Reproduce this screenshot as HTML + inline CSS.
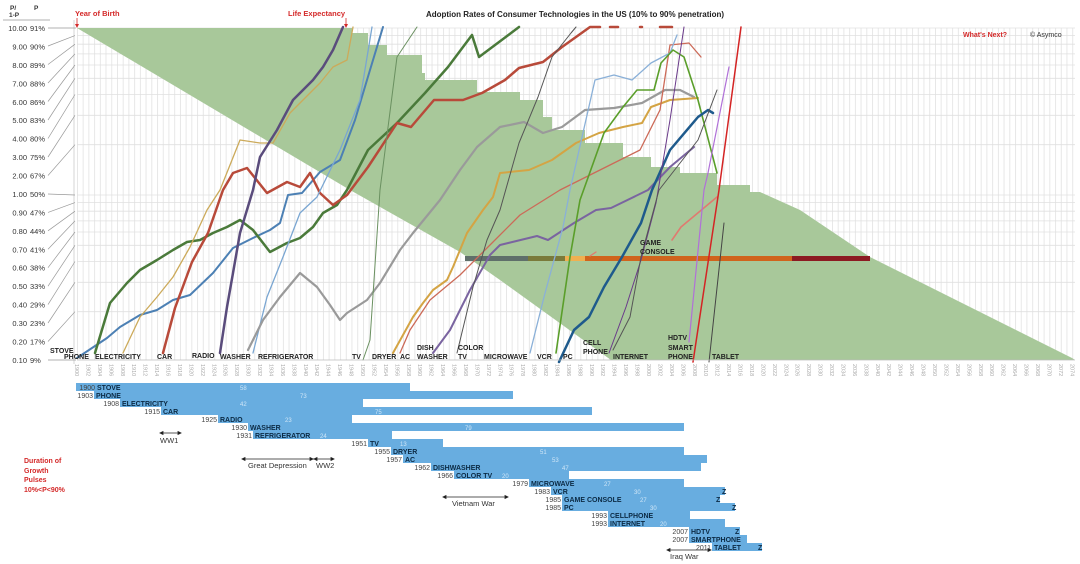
<!DOCTYPE html>
<html><head><meta charset="utf-8"><style>
html,body{margin:0;padding:0;background:#fff;}
svg{display:block;font-family:"Liberation Sans",sans-serif;}
.yl{font-size:7.5px;fill:#333;}
.xl{font-size:5.5px;fill:#aaa;}
.lb{font-size:7px;font-weight:bold;fill:#222;}
.bn{font-size:7px;font-weight:bold;fill:#0b2a44;}
.by{font-size:7px;fill:#444;text-anchor:end;}
.bv{font-size:6px;fill:#cfe6f7;}
.an{font-size:7.5px;fill:#333;}
.red{fill:#d42a2a;font-weight:bold;font-size:7.5px;}
</style></head><body>
<svg width="1080" height="564" viewBox="0 0 1080 564" xmlns="http://www.w3.org/2000/svg">
<defs>
<pattern id="vg" x="77" y="0" width="5.72" height="10" patternUnits="userSpaceOnUse">
<rect x="0" y="0" width="0.8" height="10" fill="#e2e2e2"/>
</pattern>
</defs>
<rect x="77" y="28" width="998" height="332" fill="url(#vg)"/>
<g stroke="#e0e0e0" stroke-width="0.8">
<line x1="77" x2="1075" y1="28" y2="28"/><line x1="77" x2="1075" y1="35.6" y2="35.6"/><line x1="77" x2="1075" y1="44.2" y2="44.2"/><line x1="77" x2="1075" y1="53.9" y2="53.9"/><line x1="77" x2="1075" y1="65" y2="65"/><line x1="77" x2="1075" y1="78.3" y2="78.3"/><line x1="77" x2="1075" y1="94.5" y2="94.5"/><line x1="77" x2="1075" y1="115.3" y2="115.3"/><line x1="77" x2="1075" y1="144.7" y2="144.7"/><line x1="77" x2="1075" y1="195" y2="195"/><line x1="77" x2="1075" y1="202.6" y2="202.6"/><line x1="77" x2="1075" y1="211.2" y2="211.2"/><line x1="77" x2="1075" y1="220.9" y2="220.9"/><line x1="77" x2="1075" y1="232" y2="232"/><line x1="77" x2="1075" y1="245.3" y2="245.3"/><line x1="77" x2="1075" y1="261.5" y2="261.5"/><line x1="77" x2="1075" y1="282.3" y2="282.3"/><line x1="77" x2="1075" y1="311.7" y2="311.7"/>
</g>
<!-- green region -->
<polygon fill="#a8c89a" points="77,28 352,28 352,33 368,33 368,45 387,45 387,55 422,55 422,73 425,73 425,80 477,80 477,92 520,92 520,100 543,100 543,117 552,117 552,130 585,130 585,143 623,143 623,157 651,157 651,167 680,167 680,173 717,173 717,185 750,185 750,192 760,192 800,210 870,257 1072,358 1075,360 611,360 500,280 460,252 350,190"/>
<!-- y axis -->
<line x1="74" y1="20" x2="74" y2="364" stroke="#ccc" stroke-width="0.8"/>
<g class="yl" text-anchor="end">
<text x="27" y="31">10.00</text><text x="27" y="49.4">9.00</text><text x="27" y="67.9">8.00</text><text x="27" y="86.3">7.00</text><text x="27" y="104.8">6.00</text><text x="27" y="123.2">5.00</text><text x="27" y="141.6">4.00</text><text x="27" y="160.1">3.00</text><text x="27" y="178.5">2.00</text><text x="27" y="197">1.00</text><text x="27" y="215.4">0.90</text><text x="27" y="233.8">0.80</text><text x="27" y="252.3">0.70</text><text x="27" y="270.7">0.60</text><text x="27" y="289.2">0.50</text><text x="27" y="307.6">0.40</text><text x="27" y="326">0.30</text><text x="27" y="344.5">0.20</text><text x="27" y="363">0.10</text>
</g>
<g class="yl">
<text x="30" y="31">91%</text><text x="30" y="49.4">90%</text><text x="30" y="67.9">89%</text><text x="30" y="86.3">88%</text><text x="30" y="104.8">86%</text><text x="30" y="123.2">83%</text><text x="30" y="141.6">80%</text><text x="30" y="160.1">75%</text><text x="30" y="178.5">67%</text><text x="30" y="197">50%</text><text x="30" y="215.4">47%</text><text x="30" y="233.8">44%</text><text x="30" y="252.3">41%</text><text x="30" y="270.7">38%</text><text x="30" y="289.2">33%</text><text x="30" y="307.6">29%</text><text x="30" y="326">23%</text><text x="30" y="344.5">17%</text><text x="30" y="363">9%</text>
</g>
<g stroke="#999" stroke-width="0.7">
<line x1="48" y1="28" x2="76" y2="28"/><line x1="48" y1="46" x2="75" y2="35.6"/><line x1="48" y1="64.5" x2="75" y2="44.2"/><line x1="48" y1="83" x2="75" y2="53.9"/><line x1="48" y1="101.5" x2="75" y2="65"/><line x1="48" y1="120" x2="75" y2="78.3"/><line x1="48" y1="138.5" x2="75" y2="94.5"/><line x1="48" y1="157" x2="75" y2="115.3"/><line x1="48" y1="175.5" x2="75" y2="144.7"/><line x1="48" y1="194" x2="75" y2="195"/><line x1="48" y1="212.4" x2="75" y2="202.6"/><line x1="48" y1="230.8" x2="75" y2="211.2"/><line x1="48" y1="249.3" x2="75" y2="220.9"/><line x1="48" y1="267.7" x2="75" y2="232"/><line x1="48" y1="286.2" x2="75" y2="245.3"/><line x1="48" y1="304.6" x2="75" y2="261.5"/><line x1="48" y1="323" x2="75" y2="282.3"/><line x1="48" y1="341.5" x2="75" y2="311.7"/><line x1="48" y1="360" x2="76" y2="360"/>
</g>
<text x="10" y="10" style="font-size:6.5px;font-weight:bold;fill:#333">P/</text>
<text x="9" y="17" style="font-size:6.5px;font-weight:bold;fill:#333">1-P</text>
<text x="34" y="10" style="font-size:6.5px;font-weight:bold;fill:#333">P</text>
<line x1="3" y1="20" x2="50" y2="20" stroke="#999" stroke-width="0.7"/>
<!-- title & annotations -->
<text x="75" y="16" class="red">Year of Birth</text>
<line x1="77" y1="18" x2="77" y2="27" stroke="#d42a2a" stroke-width="0.8"/><polygon points="75,24 79,24 77,28" fill="#d42a2a"/>
<text x="288" y="16" class="red">Life Expectancy</text>
<line x1="346" y1="18" x2="346" y2="27" stroke="#d42a2a" stroke-width="0.8"/><polygon points="344,24 348,24 346,28" fill="#d42a2a"/>
<text x="575" y="17" text-anchor="middle" style="font-size:8px;font-weight:bold;fill:#222">Adoption Rates of Consumer Technologies in the US (10% to 90% penetration)</text>
<text x="963" y="37" class="red" style="font-size:7px">What's Next?</text>
<text x="1030" y="37" style="font-size:7px;fill:#333">© Asymco</text>
<!-- color bar -->
<rect x="465" y="256" width="63" height="5" fill="#5f6f6a"/>
<rect x="528" y="256" width="37" height="5" fill="#7a7a3a"/>
<rect x="565" y="256" width="20" height="5" fill="#f0b050"/>
<rect x="585" y="256" width="207" height="5" fill="#d0641c"/>
<rect x="792" y="256" width="78" height="5" fill="#8c1a22"/>
<!-- series -->
<g fill="none" stroke-linejoin="round" stroke-linecap="round">
<polyline stroke="#4c80b4" stroke-width="2" points="77,358 107,338 120,327 140,315 157,310 173,300 190,295 213,273 233,248 253,238 270,230 280,223 288,195 302,193 320,172 340,160 355,120 370,70 383,27"/>
<polyline stroke="#4a7a3a" stroke-width="2.5" points="95,353 110,303 127,283 140,270 157,260 173,250 187,242 200,240 213,233 227,227 240,220 253,230 270,252 287,243 300,238 313,227 323,213 337,205 347,190 368,150 397,123 425,93 448,67 472,35 479,57 519,27"/>
<polyline stroke="#b84a3a" stroke-width="2.5" points="163,353 175,308 192,262 208,233 223,190 233,173 247,168 267,193 287,182 300,187 310,173 320,193 333,205 347,195 368,167 397,123 411,127 434,100 463,100 482,93 505,80 519,68 543,62 562,47 590,27 600,27"/>
<g stroke="#b84a3a" stroke-width="2.5"><line x1="610" y1="27" x2="618" y2="27"/><line x1="640" y1="27" x2="642" y2="27"/><line x1="660" y1="27" x2="672" y2="27"/></g>
<polyline stroke="#ccaa5a" stroke-width="1.3" points="123,353 140,317 157,297 173,277 190,247 207,210 220,190 240,140 260,143 273,143 290,113 320,83 333,67 347,60 353,27"/>
<polyline stroke="#5a4c7c" stroke-width="2.5" points="220,353 227,307 233,273 240,233 253,190 260,157 277,130 293,100 313,80 323,67 333,50 343,27"/>
<polyline stroke="#7aa6d2" stroke-width="1.3" points="253,353 267,297 283,257 300,213 317,197 340,150 360,100 372,27"/>
<polyline stroke="#9a9a9a" stroke-width="2.2" points="248,350 263,320 280,297 300,273 317,287 330,305 340,320 347,313 367,300 380,283 400,250 413,233 440,200 460,170 477,147 500,127 524,122 543,133 562,127 585,110 614,108 642,103 665,90 680,90 694,97"/>
<polyline stroke="#6a9060" stroke-width="1" points="363,360 370,340 380,190 397,57 417,27"/>
<polyline stroke="#d4a444" stroke-width="2" points="393,353 413,317 423,303 433,290 447,280 453,267 467,233 483,210 493,197 500,173 529,170 552,160 576,143 599,133 623,127 642,123 651,107 670,100 698,98"/>
<polyline stroke="#cc6a58" stroke-width="1.3" points="400,353 410,330 430,300 460,275 490,245 520,215 560,190 600,170 640,150 660,110 670,45 689,43 701,57"/>
<polyline stroke="#7a64a0" stroke-width="2" points="433,353 450,330 470,290 490,255 500,245 537,236 548,240 574,223 596,210 611,208 648,190 670,167 694,147"/>
<polyline stroke="#555" stroke-width="1" points="457,353 473,287 487,240 500,210 519,143 538,97 552,57 571,33 576,27"/>
<polyline stroke="#8ab0d8" stroke-width="1.3" points="530,353 544,297 563,227 570,190 595,80 614,75 632,80 651,63 670,53 677,35"/>
<polyline stroke="#5a9e2a" stroke-width="1.6" points="556,353 570,257 580,200 604,133 623,107 637,90 654,90 661,63 673,50 684,57 698,100 717,173"/>
<polyline stroke="#1e5a8c" stroke-width="2.5" points="559,362 574,330 589,317 604,287 622,257 641,223 652,190 670,150 698,117 708,110 713,113"/>
<polyline stroke="#6a3a8a" stroke-width="1" points="609,353 626,307 641,260 656,203 670,120 684,27"/>
<polyline stroke="#555" stroke-width="1" points="613,350 630,317 641,257 659,190 698,140 717,90"/>
<polyline stroke="#e07a70" stroke-width="1.6" points="672,240 681,227 693,217 717,197"/>
<polyline stroke="#e07a70" stroke-width="1.3" points="590,256 596,252"/>
<polyline stroke="#b070d8" stroke-width="1.2" points="689,342 704,190 708,173 729,67"/>
<polyline stroke="#d42424" stroke-width="1.5" points="693,362 719,190 741,27"/>
<polyline stroke="#444" stroke-width="1" points="709,362 724,223"/>
</g>
<!-- series labels -->
<g class="lb">
<text x="50" y="353">STOVE</text><text x="64" y="359">PHONE</text><text x="95" y="359">ELECTRICITY</text><text x="157" y="359">CAR</text><text x="192" y="358">RADIO</text><text x="220" y="359">WASHER</text><text x="258" y="359">REFRIGERATOR</text><text x="352" y="359">TV</text><text x="372" y="359">DRYER</text><text x="400" y="359">AC</text><text x="417" y="350">DISH</text><text x="417" y="359">WASHER</text><text x="458" y="350">COLOR</text><text x="458" y="359">TV</text><text x="484" y="359">MICROWAVE</text><text x="537" y="359">VCR</text><text x="563" y="359">PC</text><text x="583" y="345">CELL</text><text x="583" y="354">PHONE</text><text x="613" y="359">INTERNET</text><text x="640" y="245">GAME</text><text x="640" y="254">CONSOLE</text><text x="668" y="340">HDTV</text><text x="668" y="350">SMART</text><text x="668" y="359">PHONE</text><text x="712" y="359">TABLET</text>
</g>
<line x1="77" y1="360" x2="1075" y2="360" stroke="#bbb" stroke-width="0.7"/>
<!-- x labels -->
<g class="xl">
<text transform="translate(75,364) rotate(90)">1900</text><text transform="translate(86.4,364) rotate(90)">1902</text><text transform="translate(97.9,364) rotate(90)">1904</text><text transform="translate(109.3,364) rotate(90)">1906</text><text transform="translate(120.8,364) rotate(90)">1908</text><text transform="translate(132.2,364) rotate(90)">1910</text><text transform="translate(143.6,364) rotate(90)">1912</text><text transform="translate(155.1,364) rotate(90)">1914</text><text transform="translate(166.5,364) rotate(90)">1916</text><text transform="translate(178,364) rotate(90)">1918</text><text transform="translate(189.4,364) rotate(90)">1920</text><text transform="translate(200.8,364) rotate(90)">1922</text><text transform="translate(212.3,364) rotate(90)">1924</text><text transform="translate(223.7,364) rotate(90)">1926</text><text transform="translate(235.2,364) rotate(90)">1928</text><text transform="translate(246.6,364) rotate(90)">1930</text><text transform="translate(258,364) rotate(90)">1932</text><text transform="translate(269.5,364) rotate(90)">1934</text><text transform="translate(280.9,364) rotate(90)">1936</text><text transform="translate(292.4,364) rotate(90)">1938</text><text transform="translate(303.8,364) rotate(90)">1940</text><text transform="translate(315.2,364) rotate(90)">1942</text><text transform="translate(326.7,364) rotate(90)">1944</text><text transform="translate(338.1,364) rotate(90)">1946</text><text transform="translate(349.6,364) rotate(90)">1948</text><text transform="translate(361,364) rotate(90)">1950</text><text transform="translate(372.4,364) rotate(90)">1952</text><text transform="translate(383.9,364) rotate(90)">1954</text><text transform="translate(395.3,364) rotate(90)">1956</text><text transform="translate(406.8,364) rotate(90)">1958</text><text transform="translate(418.2,364) rotate(90)">1960</text><text transform="translate(429.6,364) rotate(90)">1962</text><text transform="translate(441.1,364) rotate(90)">1964</text><text transform="translate(452.5,364) rotate(90)">1966</text><text transform="translate(464,364) rotate(90)">1968</text><text transform="translate(475.4,364) rotate(90)">1970</text><text transform="translate(486.8,364) rotate(90)">1972</text><text transform="translate(498.3,364) rotate(90)">1974</text><text transform="translate(509.7,364) rotate(90)">1976</text><text transform="translate(521.2,364) rotate(90)">1978</text><text transform="translate(532.6,364) rotate(90)">1980</text><text transform="translate(544,364) rotate(90)">1982</text><text transform="translate(555.5,364) rotate(90)">1984</text><text transform="translate(566.9,364) rotate(90)">1986</text><text transform="translate(578.4,364) rotate(90)">1988</text><text transform="translate(589.8,364) rotate(90)">1990</text><text transform="translate(601.2,364) rotate(90)">1992</text><text transform="translate(612.7,364) rotate(90)">1994</text><text transform="translate(624.1,364) rotate(90)">1996</text><text transform="translate(635.6,364) rotate(90)">1998</text><text transform="translate(647,364) rotate(90)">2000</text><text transform="translate(658.4,364) rotate(90)">2002</text><text transform="translate(669.9,364) rotate(90)">2004</text><text transform="translate(681.3,364) rotate(90)">2006</text><text transform="translate(692.8,364) rotate(90)">2008</text><text transform="translate(704.2,364) rotate(90)">2010</text><text transform="translate(715.6,364) rotate(90)">2012</text><text transform="translate(727.1,364) rotate(90)">2014</text><text transform="translate(738.5,364) rotate(90)">2016</text><text transform="translate(750,364) rotate(90)">2018</text><text transform="translate(761.4,364) rotate(90)">2020</text><text transform="translate(772.8,364) rotate(90)">2022</text><text transform="translate(784.3,364) rotate(90)">2024</text><text transform="translate(795.7,364) rotate(90)">2026</text><text transform="translate(807.2,364) rotate(90)">2028</text><text transform="translate(818.6,364) rotate(90)">2030</text><text transform="translate(830,364) rotate(90)">2032</text><text transform="translate(841.5,364) rotate(90)">2034</text><text transform="translate(852.9,364) rotate(90)">2036</text><text transform="translate(864.4,364) rotate(90)">2038</text><text transform="translate(875.8,364) rotate(90)">2040</text><text transform="translate(887.2,364) rotate(90)">2042</text><text transform="translate(898.7,364) rotate(90)">2044</text><text transform="translate(910.1,364) rotate(90)">2046</text><text transform="translate(921.6,364) rotate(90)">2048</text><text transform="translate(933,364) rotate(90)">2050</text><text transform="translate(944.4,364) rotate(90)">2052</text><text transform="translate(955.9,364) rotate(90)">2054</text><text transform="translate(967.3,364) rotate(90)">2056</text><text transform="translate(978.8,364) rotate(90)">2058</text><text transform="translate(990.2,364) rotate(90)">2060</text><text transform="translate(1001.6,364) rotate(90)">2062</text><text transform="translate(1013.1,364) rotate(90)">2064</text><text transform="translate(1024.5,364) rotate(90)">2066</text><text transform="translate(1036,364) rotate(90)">2068</text><text transform="translate(1047.4,364) rotate(90)">2070</text><text transform="translate(1058.8,364) rotate(90)">2072</text><text transform="translate(1070.3,364) rotate(90)">2074</text>
</g>
<!-- duration bars -->
<g fill="#68ade0">
<rect x="76" y="383" width="334" height="8"/>
<rect x="94" y="391" width="419" height="8"/>
<rect x="120" y="399" width="243" height="8"/>
<rect x="161" y="407" width="431" height="8"/>
<rect x="218" y="415" width="134" height="8"/>
<rect x="248" y="423" width="436" height="8"/>
<rect x="253" y="431" width="139" height="8"/>
<rect x="368" y="439" width="75" height="8"/>
<rect x="391" y="447" width="293" height="8"/>
<rect x="403" y="455" width="304" height="8"/>
<rect x="431" y="463" width="270" height="8"/>
<rect x="454" y="471" width="115" height="8"/>
<rect x="529" y="479" width="155" height="8"/>
<rect x="551" y="487" width="174" height="8"/>
<rect x="562" y="495" width="158" height="8"/>
<rect x="562" y="503" width="173" height="8"/>
<rect x="608" y="511" width="82" height="8"/>
<rect x="608" y="519" width="117" height="8"/>
<rect x="689" y="527" width="51" height="8"/>
<rect x="689" y="535" width="58" height="8"/>
<rect x="712" y="543" width="50" height="8"/>
</g>
<g class="by">
<text x="95" y="390">1900</text><text x="93" y="398">1903</text><text x="119" y="406">1908</text><text x="160" y="414">1915</text><text x="217" y="422">1925</text><text x="247" y="430">1930</text><text x="252" y="438">1931</text><text x="367" y="446">1951</text><text x="390" y="454">1955</text><text x="402" y="462">1957</text><text x="430" y="470">1962</text><text x="453" y="478">1966</text><text x="528" y="486">1979</text><text x="550" y="494">1983</text><text x="561" y="502">1985</text><text x="561" y="510">1985</text><text x="607" y="518">1993</text><text x="607" y="526">1993</text><text x="688" y="534">2007</text><text x="688" y="542">2007</text><text x="711" y="550">2011</text>
</g>
<g class="bn">
<text x="97" y="390">STOVE</text><text x="96" y="398">PHONE</text><text x="122" y="406">ELECTRICITY</text><text x="163" y="414">CAR</text><text x="220" y="422">RADIO</text><text x="250" y="430">WASHER</text><text x="255" y="438">REFRIGERATOR</text><text x="370" y="446">TV</text><text x="393" y="454">DRYER</text><text x="405" y="462">AC</text><text x="433" y="470">DISHWASHER</text><text x="456" y="478">COLOR TV</text><text x="531" y="486">MICROWAVE</text><text x="553" y="494">VCR</text><text x="564" y="502">GAME CONSOLE</text><text x="564" y="510">PC</text><text x="610" y="518">CELLPHONE</text><text x="610" y="526">INTERNET</text><text x="691" y="534">HDTV</text><text x="691" y="542">SMARTPHONE</text><text x="714" y="550">TABLET</text>
<text x="722" y="494">Z</text><text x="716" y="502">Z</text><text x="732" y="510">Z</text><text x="735" y="534">Z</text><text x="758" y="550">Z</text>
</g>
<g class="bv">
<text x="240" y="390">58</text><text x="300" y="398">73</text><text x="240" y="406">42</text><text x="375" y="414">75</text><text x="285" y="422">23</text><text x="465" y="430">79</text><text x="320" y="438">24</text><text x="400" y="446">13</text><text x="540" y="454">51</text><text x="552" y="462">53</text><text x="562" y="470">47</text><text x="502" y="478">20</text><text x="604" y="486">27</text><text x="634" y="494">30</text><text x="640" y="502">27</text><text x="650" y="510">30</text><text x="660" y="526">20</text>
</g>
<!-- event arrows -->
<g stroke="#222" stroke-width="0.8" fill="#222">
<line x1="161" y1="433" x2="180" y2="433"/><polygon points="160,433 163,431.5 163,434.5"/><polygon points="181,433 178,431.5 178,434.5"/>
<line x1="243" y1="459" x2="333" y2="459"/><polygon points="242,459 245,457.5 245,460.5"/><polygon points="313,459 310,457.5 310,460.5"/><polygon points="314,459 317,457.5 317,460.5"/><polygon points="334,459 331,457.5 331,460.5"/>
<line x1="444" y1="497" x2="507" y2="497"/><polygon points="443,497 446,495.5 446,498.5"/><polygon points="508,497 505,495.5 505,498.5"/>
<line x1="668" y1="550" x2="710" y2="550"/><polygon points="667,550 670,548.5 670,551.5"/><polygon points="711,550 708,548.5 708,551.5"/>
</g>
<g class="an">
<text x="160" y="443">WW1</text>
<text x="248" y="468">Great Depression</text>
<text x="316" y="468">WW2</text>
<text x="452" y="506">Vietnam War</text>
<text x="670" y="559">Iraq War</text>
</g>
<g class="red" style="font-size:7px">
<text x="24" y="463">Duration of</text><text x="24" y="473">Growth</text><text x="24" y="482">Pulses</text><text x="24" y="492">10%&lt;P&lt;90%</text>
</g>
</svg>
</body></html>
